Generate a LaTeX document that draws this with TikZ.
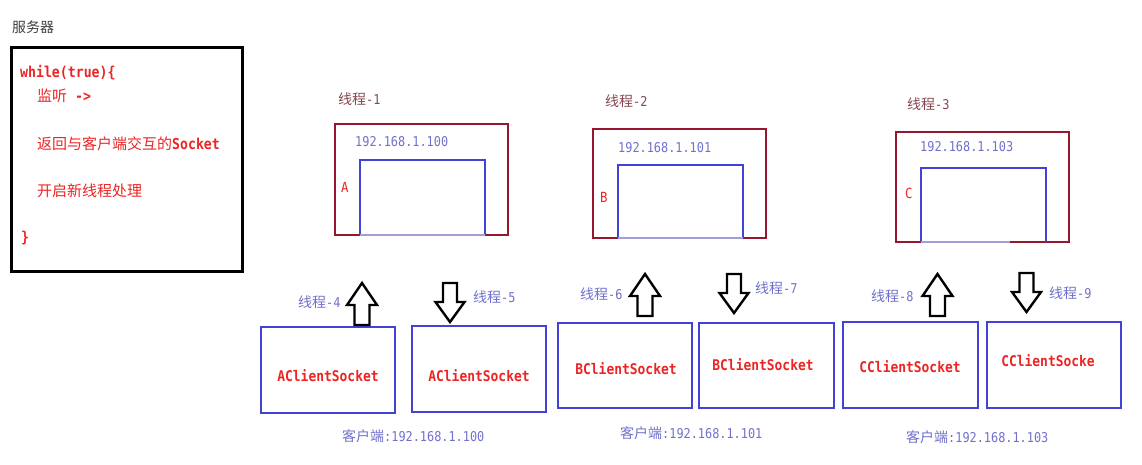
\documentclass[tikz,border=0pt]{standalone}
\usepackage{fontspec}
\newfontfamily\cjk{Noto Sans CJK SC}
\newfontfamily\mono[FakeStretch=0.88]{DejaVu Sans Mono}
\definecolor{srvred}{RGB}{236,36,36}
\definecolor{boxred}{RGB}{150,22,45}
\definecolor{boxblue}{RGB}{66,66,215}
\definecolor{lblue}{RGB}{112,112,205}
\definecolor{thrbrown}{RGB}{135,70,80}
\definecolor{fadeblue}{RGB}{160,160,215}
\newcommand\sC[1]{{\cjk\fontsize{15}{18}\selectfont #1}}
\newcommand\sL[1]{{\mono\bfseries\fontsize{15}{18}\selectfont #1}}
\newcommand\lC[1]{{\cjk\fontsize{14}{17}\selectfont #1}}
\newcommand\lL[1]{{\mono\fontsize{13.5}{16}\selectfont #1}}
\tikzset{
  srvtxt/.style={anchor=west,inner sep=0pt,text=srvred},
  lbltxt/.style={anchor=west,inner sep=0pt,text=lblue},
  thrtxt/.style={anchor=west,inner sep=0pt,text=thrbrown},
  sockbox/.style={draw=boxblue,line width=2.8pt,fill=white},
  socktxt/.style={inner sep=0pt,text=srvred,font=\mono\bfseries\fontsize{14.7}{17}\selectfont},
  outerbox/.style={draw=boxred,line width=2.8pt},
  innerbox/.style={draw=boxblue,line width=2.8pt},
  letter/.style={anchor=west,inner sep=0pt,text=srvred,font=\mono\fontsize{14}{17}\selectfont},
  blockarr/.style={draw=black,line width=2.4pt,fill=white,line join=miter},
  uparr/.pic={\path[blockarr] (0,0) -- (15,22) -- (7.5,22) -- (7.5,42) -- (-7.5,42) -- (-7.5,22) -- (-15,22) -- cycle;},
  downarr/.pic={\path[blockarr] (-7,0) -- (7,0) -- (7,19) -- (14.5,19) -- (0,39) -- (-14.5,19) -- (-7,19) -- cycle;}
}
\begin{document}
\begin{tikzpicture}[x=1pt,y=-1pt]
\useasboundingbox[fill=white] (0,0) rectangle (1142,464);
% server
\node[anchor=west,inner sep=0pt,text=black!75] (srvtitle) at (12,27) {\lC{服务器}};
\draw[black,line width=3pt] (11,47) rectangle (242,271);
\node[srvtxt] (w1) at (20,73) {\sL{while(true)\{}};
\node[srvtxt] (w2) at (37,96) {\sC{监听}\sL{ ->}};
\node[srvtxt] (w3) at (37,144) {\sC{返回与客户端交互的}\sL{Socket}};
\node[srvtxt] (w4) at (37,191) {\sC{开启新线程处理}};
\node[srvtxt] (w5) at (21,238) {\sL{\}}};
% thread 1
\node[thrtxt] (t1) at (338,99) {\lC{线程}\lL{-1}};
\draw[outerbox] (335,124) rectangle (508,235);
\draw[innerbox] (360,235) -- (360,160) -- (485,160) -- (485,235);
\draw[fadeblue,line width=2.2pt] (360,235) -- (485,235);
\node[lbltxt] (ip1) at (355,142) {\lL{192.168.1.100}};
\node[letter] (la) at (341,187) {A};
% thread 2
\node[thrtxt] (t2) at (605,101) {\lC{线程}\lL{-2}};
\draw[outerbox] (593,129) rectangle (766,238);
\draw[innerbox] (618,238) -- (618,165) -- (743,165) -- (743,238);
\draw[fadeblue,line width=2.2pt] (618,238) -- (743,238);
\node[lbltxt] (ip2) at (618,148) {\lL{192.168.1.101}};
\node[letter] (lb) at (600,197) {B};
% thread 3
\node[thrtxt] (t3) at (907,104) {\lC{线程}\lL{-3}};
\draw[outerbox] (896,132) rectangle (1069,242);
\draw[innerbox] (921,242) -- (921,168) -- (1046,168) -- (1046,242);
\draw[fadeblue,line width=2.2pt] (921,242) -- (1010,242);
\node[lbltxt] (ip3) at (920,147) {\lL{192.168.1.103}};
\node[letter] (lc) at (905,193) {C};
% client boxes
\draw[sockbox] (261,327) rectangle (395,413); \node[socktxt] (a1) at (328,376) {AClientSocket};
\draw[sockbox] (412,326) rectangle (546,412); \node[socktxt] (a2) at (479,376) {AClientSocket};
\draw[sockbox] (558,323) rectangle (692,408); \node[socktxt] (b1) at (626,369) {BClientSocket};
\draw[sockbox] (699,323) rectangle (834,408); \node[socktxt] (b2) at (763,365) {BClientSocket};
\draw[sockbox] (843,322) rectangle (978,408); \node[socktxt] (c1) at (910,367) {CClientSocket};
\draw[sockbox] (987,322) rectangle (1121,408); \node[socktxt] (c2) at (1048,361) {CClientSocke};
% block arrows
\pic at (362,283) {uparr};
\pic at (450,283) {downarr};
\pic at (645,274) {uparr};
\pic at (734,274) {downarr};
\pic at (937.5,274) {uparr};
\pic at (1026.5,273) {downarr};
% thread labels
\node[lbltxt] (t4) at (298,302) {\lC{线程}\lL{-4}};
\node[lbltxt] (t5) at (473,297) {\lC{线程}\lL{-5}};
\node[lbltxt] (t6) at (580,294) {\lC{线程}\lL{-6}};
\node[lbltxt] (t7) at (755,288) {\lC{线程}\lL{-7}};
\node[lbltxt] (t8) at (871,296) {\lC{线程}\lL{-8}};
\node[lbltxt] (t9) at (1049,293) {\lC{线程}\lL{-9}};
% client addresses
\node[lbltxt] (ca) at (342,436) {\lC{客户端}\lL{:192.168.1.100}};
\node[lbltxt] (cb) at (620,433) {\lC{客户端}\lL{:192.168.1.101}};
\node[lbltxt] (cc) at (906,437) {\lC{客户端}\lL{:192.168.1.103}};
\end{tikzpicture}
\end{document}
